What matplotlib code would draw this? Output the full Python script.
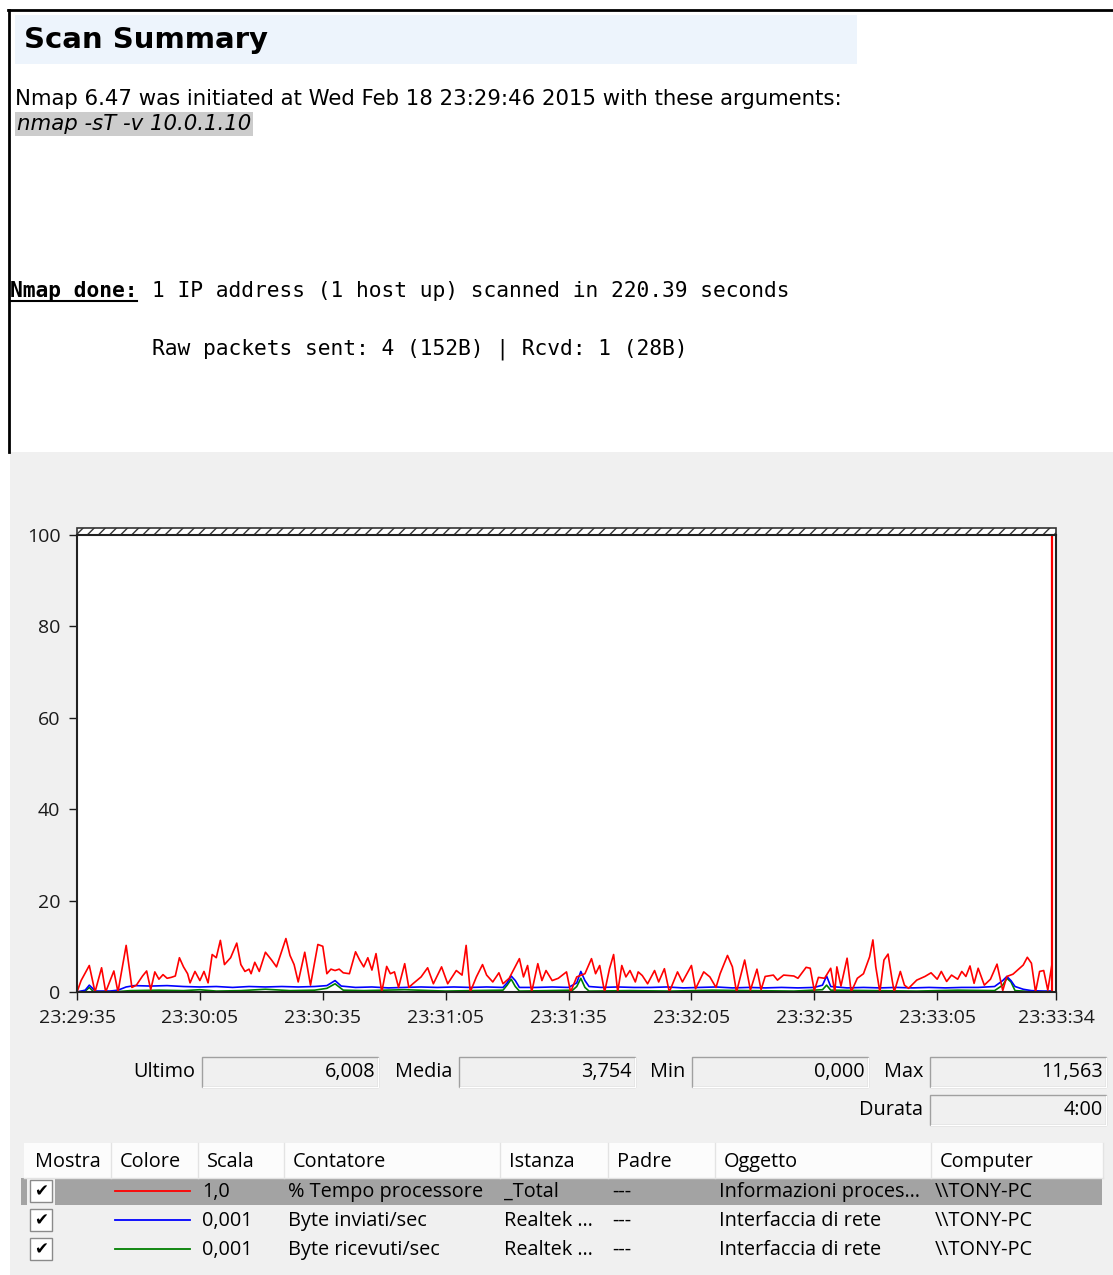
import matplotlib.pyplot as plt
from matplotlib.patches import Rectangle

# ── data ──
# counter samples: seconds since 23:29:35 -> value (polyline vertices)
red_t = [0, 1, 3, 4.4, 6, 7, 9, 10, 12, 13.4, 14.5, 16, 17, 18, 19, 20, 21, 22, 23, 24,
         25, 26, 27, 27.6, 28.8, 30, 31, 32, 33, 34, 35, 36, 37.5, 39, 40, 41, 42, 42.5, 43.4, 44.5,
         46, 47.5, 48.7, 51, 52, 53, 54, 55.6, 57, 58.8, 60, 61, 62, 63, 64, 65, 66.5, 68, 69, 70,
         71, 72, 73, 74.4, 75.6, 76.5, 77.5, 78.5, 80, 81, 82, 84, 85.6, 87, 89, 90.5, 92.6, 94, 95, 96,
         97.5, 99, 100, 101.5, 103, 104, 105.5, 108, 109, 110, 111, 112.5, 113.5, 114.5, 116, 117.5, 119.5, 120.5, 122, 124,
         125.6, 126.6, 127.6, 128.8, 130, 131, 132, 133, 134, 135, 136.3, 137, 138, 139.3, 141, 142, 143.4, 144.6, 146.6, 147.8,
         150, 151, 153, 154.5, 156, 157, 158.8, 160, 161, 163, 164.4, 166, 167, 168, 170, 171, 172.5, 175, 176, 178,
         179, 180, 181, 182.5, 184, 185, 185.5, 186.5, 188, 189, 190.5, 192, 193.5, 194.3, 195, 196, 197, 198, 199, 199.5,
         201, 202, 203, 205, 207, 208.5, 210, 211, 212.3, 213.5, 215, 216, 217, 218, 219, 220, 221.5, 223, 224.6, 226,
         227, 228.5, 231, 232, 233, 234, 235, 236, 237, 238]
red_v = [0, 2.5, 5.8, 0, 5.3, 0, 4.6, 0, 10.2, 1, 1.5, 3.5, 4.6, 0.5, 4.4, 2.8, 3.8, 3, 3.2, 3.5,
         7.5, 5.5, 4, 2, 4.5, 2.5, 4.5, 2, 8.2, 7.5, 11.3, 6, 7.5, 10.7, 6, 4.5, 5, 4, 6.5, 4.5,
         8.7, 7, 5.5, 11.7, 8, 6, 2.2, 8.7, 1.5, 10.4, 10, 4, 5, 4.7, 5, 4.2, 4, 8.8, 7, 5.5,
         7.5, 4.8, 8.4, 0, 5.6, 4, 4.4, 1, 6.2, 1, 1.8, 3.3, 5.3, 1.8, 5.5, 1.8, 4.7, 3.7, 10.2, 0,
         3.3, 6, 3.7, 2.2, 4.2, 1.8, 3, 7.3, 3.3, 5.8, 0, 6.2, 2.5, 4.7, 2.5, 3, 4.4, 0, 3.3, 4,
         7.3, 4, 5.8, 0, 5.1, 8.2, 0, 5.8, 3.3, 4.7, 2.2, 4.4, 3.6, 1.8, 4.7, 2.2, 5.1, 0, 4.4, 2.2,
         5.8, 0.7, 4.4, 3.3, 1, 4, 8, 5.5, 0, 7, 0.4, 5, 0.5, 3.4, 3.7, 2.6, 3.7, 3.5, 3, 5.4,
         5.2, 0.3, 3.2, 3, 5.2, 0, 5.5, 1.3, 7.4, 0, 3, 4, 7.7, 11.4, 5.5, 0, 7, 8.3, 2.6, 0,
         4.5, 1.5, 0.8, 2.6, 3.4, 4.2, 2.8, 4.5, 2.3, 3.7, 2.8, 4.5, 3.4, 5.7, 1.9, 5.2, 1.5, 2.8, 6.1, 0.3,
         3.4, 3.9, 5.9, 7.6, 6.3, 0, 4.5, 4.7, 0.4, 6.0]

blue_t = [0, 2, 3, 4.5, 8, 10, 12, 14, 18, 22, 26, 30, 34, 38, 42, 46, 50, 54, 58, 61,
          63, 64.5, 68, 72, 76, 80, 84, 88, 92, 96, 100, 104, 105, 106, 107, 108, 112, 116, 120, 122,
          123, 124, 125, 128, 132, 136, 140, 144, 148, 152, 156, 160, 164, 168, 172, 176, 180, 182, 183, 184,
          188, 192, 196, 200, 204, 208, 212, 216, 220, 224, 226, 227, 228, 229, 231, 233, 236, 238]
blue_v = [0, 0.4, 1.5, 0.2, 0.2, 0.4, 1.1, 1.4, 1.3, 1.4, 1.2, 1.1, 1.2, 1.0, 1.2, 1.1, 1.2, 1.1, 1.2, 1.4,
          2.5, 1.3, 1.0, 1.1, 0.9, 1.0, 1.1, 1.0, 1.1, 1.0, 1.1, 1.0, 2.0, 3.5, 2.5, 1.0, 1.0, 1.1, 1.0, 2.0,
          4.5, 2.5, 1.2, 1.0, 1.1, 1.0, 1.0, 1.1, 0.9, 1.0, 1.1, 0.9, 1.0, 0.9, 1.0, 0.9, 1.0, 1.5, 3.5, 1.2,
          0.9, 1.0, 0.9, 1.0, 0.9, 1.0, 0.9, 1.0, 1.0, 1.2, 2.5, 3.4, 2.5, 1.2, 0.6, 0.3, 0.2, 0.2]

green_t = [0, 2, 3, 4, 10, 13, 20, 26, 30, 34, 40, 46, 52, 58, 61, 63, 65, 70, 80, 90,
           96, 104, 105, 106, 107, 108, 115, 121, 122, 123, 124, 125, 135, 145, 155, 165, 175, 182, 183, 184,
           195, 205, 215, 224, 226, 227, 228, 229, 233, 238]
green_v = [0, 0.2, 1.0, 0.1, 0.1, 0.3, 0.4, 0.3, 0.5, 0.2, 0.3, 0.6, 0.3, 0.4, 0.8, 1.8, 0.4, 0.3, 0.5, 0.2,
           0.3, 0.4, 1.5, 2.8, 1.2, 0.2, 0.3, 0.4, 1.2, 3.0, 1.0, 0.2, 0.3, 0.2, 0.4, 0.3, 0.2, 0.5, 1.5, 0.4,
           0.3, 0.2, 0.4, 0.3, 1.5, 3.0, 2.2, 0.3, 0.1, 0.1]

cursor_t = 238
x_ticks = [0, 30, 60, 90, 120, 150, 180, 210, 239]
x_labels = ["23:29:35", "23:30:05", "23:30:35", "23:31:05", "23:31:35",
            "23:32:05", "23:32:35", "23:33:05", "23:33:34"]
y_ticks = [0, 20, 40, 60, 80, 100]

stat_names = ["Ultimo", "Media", "Min", "Max"]
stat_values = [6.008, 3.754, 0.000, 11.563]
duration = "4:00"

columns = ["Mostra", "Colore", "Scala", "Contatore", "Istanza", "Padre", "Oggetto", "Computer"]
row_colors = ["#ff0000", "#0000ff", "#008000"]
row_scale = ["1,0", "0,001", "0,001"]
row_counter = ["% Tempo processore", "Byte inviati/sec", "Byte ricevuti/sec"]
row_instance = ["_Total", "Realtek …", "Realtek …"]
row_parent = ["---", "---", "---"]
row_object = ["Informazioni proces…", "Interfaccia di rete", "Interfaccia di rete"]
row_computer = ["\\\\TONY-PC", "\\\\TONY-PC", "\\\\TONY-PC"]

# ── page ──
W, H = 1113, 1275
fig = plt.figure(figsize=(W / 100, H / 100), dpi=100)
fig.patch.set_facecolor("white")
bg = fig.add_axes([0, 0, 1, 1])
bg.set_xlim(0, W)
bg.set_ylim(H, 0)
bg.axis("off")

ui = "Open Sans"
fs = 14.3

# nmap report part
bg.plot([8, W], [10, 10], color="black", lw=2)
bg.plot([9, 9], [10, 452], color="black", lw=2)
bg.add_patch(Rectangle((15, 15), 842, 49, facecolor="#edf4fc", edgecolor="none"))
bg.text(24, 40, "Scan Summary", fontsize=21, fontweight="bold", family="DejaVu Sans", va="center")
bg.text(15, 99, "Nmap 6.47 was initiated at Wed Feb 18 23:29:46 2015 with these arguments:",
        fontsize=15.3, family="DejaVu Sans", va="center")
bg.text(17, 124, "nmap -sT -v 10.0.1.10", fontsize=15.3, family="DejaVu Sans", style="italic",
        va="center", bbox=dict(boxstyle="square,pad=0.1", fc="#cccccc", ec="none"))
bg.text(10, 291, "Nmap done:", fontsize=15.3, family="DejaVu Sans Mono", fontweight="bold", va="center")
bg.plot([10, 137], [301, 301], color="black", lw=1.5)
bg.text(152, 291, "1 IP address (1 host up) scanned in 220.39 seconds",
        fontsize=15.3, family="DejaVu Sans Mono", va="center")
bg.text(152, 349, "Raw packets sent: 4 (152B) | Rcvd: 1 (28B)",
        fontsize=15.3, family="DejaVu Sans Mono", va="center")

# perfmon part
bg.add_patch(Rectangle((10, 452), W - 10, H - 452, facecolor="#f0f0f0", edgecolor="none"))
bg.add_patch(Rectangle((77, 528), 979, 7, facecolor="white", edgecolor="#333333",
                       hatch="///", lw=1.2))

# ── graph ──
ax = fig.add_axes([77 / W, 1 - 992 / H, 979 / W, 457 / H])
ax.set_facecolor("white")
ax.plot(green_t, green_v, color="#008000", lw=1.2)
ax.plot(blue_t, blue_v, color="#0000ff", lw=1.2)
ax.plot(red_t, red_v, color="#ff0000", lw=1.2)
ax.axvline(cursor_t, color="#ff0000", lw=1.6)
ax.set_xlim(0, 239)
ax.set_ylim(0, 100)
ax.set_xticks(x_ticks)
ax.set_xticklabels(x_labels)
ax.set_yticks(y_ticks)
ax.tick_params(labelsize=14, length=6, width=1, colors="#1a1a1a", pad=6)
for lab in ax.get_xticklabels() + ax.get_yticklabels():
    lab.set_family(ui)
for s in ax.spines.values():
    s.set_color("#222222")
    s.set_linewidth(1.5)

# ── statistics boxes ──
def sunken(x, y, w, h, text):
    bg.add_patch(Rectangle((x, y), w, h, facecolor="#f0f0f0", edgecolor="#a0a0a0", lw=1))
    bg.plot([x + 1, x + w, x + w], [y + h, y + h, y + 1], color="white", lw=1)
    bg.text(x + w - 3, y + h / 2, text, ha="right", va="center", fontsize=fs, family=ui)

box_x = [202, 459, 692, 930]
for name, val, bx in zip(stat_names, stat_values, box_x):
    bg.text(bx - 7, 1072, name, ha="right", va="center", fontsize=fs, family=ui)
    sunken(bx, 1057, 176, 30, f"{val:.3f}".replace(".", ","))
bg.text(923, 1110, "Durata", ha="right", va="center", fontsize=fs, family=ui)
sunken(930, 1095, 176, 30, duration)

# ── counter table ──
col_x = [26, 111, 198, 284, 500, 608, 715, 931, 1103]
bg.add_patch(Rectangle((24, 1143), 1079, 35, facecolor="#fcfcfc", edgecolor="none"))
bg.plot([24, 1103], [1178, 1178], color="#e3e3e3", lw=1)
for i, name in enumerate(columns):
    bg.text(col_x[i] + 9, 1162, name, va="center", fontsize=fs, family=ui)
    bg.plot([col_x[i + 1], col_x[i + 1]], [1143, 1178], color="#e3e3e3", lw=1)

row_y = [1191, 1220, 1249]
bg.add_patch(Rectangle((55, 1178), 1047, 27, facecolor="#a3a3a3", edgecolor="none"))
bg.add_patch(Rectangle((21, 1178), 6, 27, facecolor="#a3a3a3", edgecolor="none"))
for r, y in enumerate(row_y):
    bg.add_patch(Rectangle((30, y - 11), 22, 22, facecolor="white", edgecolor="#8a8a8a", lw=1))
    bg.text(41, y, "✔", ha="center", va="center", fontsize=12, family="DejaVu Sans")
    bg.plot([115, 190], [y, y], color=row_colors[r], lw=1.3)
    cells = [row_scale[r], row_counter[r], row_instance[r], row_parent[r], row_object[r], row_computer[r]]
    for c, txt in enumerate(cells):
        bg.text(col_x[c + 2] + 4, y + 1, txt, va="center", fontsize=fs, family=ui)

fig.savefig("out.png", dpi=100)
